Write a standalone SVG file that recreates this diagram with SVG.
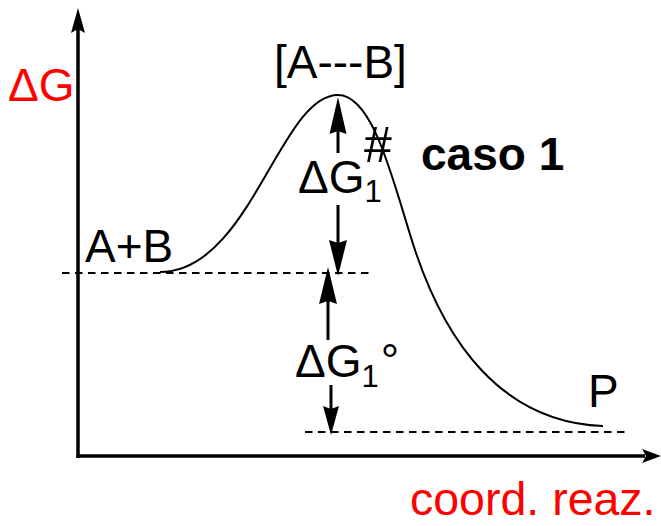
<svg xmlns="http://www.w3.org/2000/svg" width="661" height="526" viewBox="0 0 661 526">
<style>
text{font-family:"Liberation Sans",Arial,sans-serif;font-size:46px;fill:#000}
.red{fill:#ff0000}
.sub{font-size:31px}
.axis{stroke:#000;stroke-width:3.5;fill:none}
.arr{stroke:#000;stroke-width:3;fill:none}
.dash{stroke:#000;stroke-width:2.2;fill:none;stroke-dasharray:7.5 5.5}
.curve{stroke:#000;stroke-width:2;fill:none}
.head{fill:#000;stroke:none}
</style>
<rect width="661" height="526" fill="#fff"/>
<g id="axes">
<line class="axis" x1="78" y1="458" x2="78" y2="28"/>
<path class="head" d="M78,8 L85,33 L78,29 L71,33 Z"/>
<line class="axis" x1="76.5" y1="456" x2="645" y2="456"/>
<path class="head" d="M661,456 L642,463 L646,456 L642,449 Z"/>
</g>
<g id="levels">
<line class="dash" x1="62" y1="273" x2="372" y2="273"/>
<line class="dash" x1="305" y1="432" x2="630" y2="432"/>
</g>
<g id="profile">
<path class="curve" d="M160,272 C250,272 280,95 338,95 C375,95 395,190 415,250 C445,340 500,422 603,426"/>
</g>
<g id="connectors">
<line class="arr" x1="338" y1="153" x2="338" y2="128"/>
<path class="head" d="M338,97 L346.5,134 L338,131 L329.5,134 Z"/>
<line class="arr" x1="338" y1="205" x2="338" y2="246"/>
<path class="head" d="M338,276 L347,240 L338,243 L329,240 Z"/>
<line class="arr" x1="328" y1="340" x2="328" y2="298"/>
<path class="head" d="M328,267 L337,304 L328,301 L319,304 Z"/>
<line class="arr" x1="331" y1="385" x2="331" y2="412"/>
<path class="head" d="M331,435 L339,406 L331,409 L323,406 Z"/>
</g>
<g id="labels">
<text x="8" y="101" class="red">ΔG</text>
<text x="274" y="78">[A---B]</text>
<text x="85" y="262">A+B</text>
<text x="298" y="193">ΔG<tspan class="sub" y="202">1</tspan></text>
<text x="364" y="162" style="font-size:50px">#</text>
<text x="421" y="170" font-weight="bold">caso 1</text>
<text x="295" y="377">ΔG<tspan class="sub" y="387">1</tspan><tspan y="377" dx="2">°</tspan></text>
<text x="588" y="407">P</text>
<text x="410" y="515" class="red" style="font-size:46.5px">coord. reaz.</text>
</g>
</svg>
